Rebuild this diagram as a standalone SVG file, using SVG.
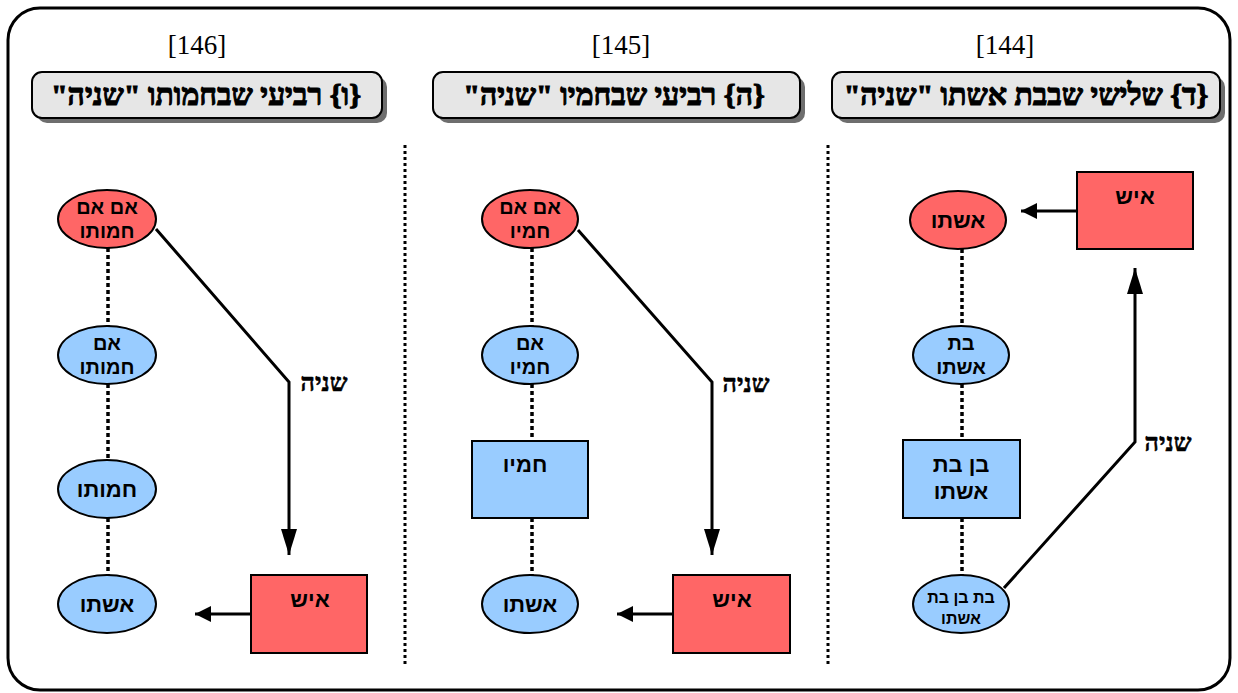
<svg xmlns="http://www.w3.org/2000/svg" width="1238" height="693" viewBox="0 0 1238 693">
<style>
.frame{fill:#fff;stroke:#000;stroke-width:3}
.hdr{fill:#e6e6e6;stroke:#000;stroke-width:2}
.shd{fill:#6e6e6e}
.red{fill:#ff6666;stroke:#000;stroke-width:2}
.blue{fill:#99ccff;stroke:#000;stroke-width:2}
.num{font-family:"Liberation Serif","DejaVu Serif",serif;font-size:27px;fill:#000}
.ht{font-family:"Liberation Serif",serif;font-size:30px;font-weight:bold;fill:#000;stroke:#000;stroke-width:1.1}
.nt{font-family:"Liberation Sans","DejaVu Sans",sans-serif;font-size:22px;font-weight:bold;fill:#000}
.n2{font-family:"Liberation Sans","DejaVu Sans",sans-serif;font-size:20px;font-weight:bold;fill:#000}
.ns{font-family:"Liberation Sans","DejaVu Sans",sans-serif;font-size:16px;font-weight:bold;fill:#000}
.lab{font-family:"Liberation Serif",serif;font-size:25px;font-weight:bold;fill:#000;stroke:#000;stroke-width:0.6}
.sep{stroke:#000;stroke-width:3;stroke-dasharray:3 3;fill:none}
.dot{stroke:#000;stroke-width:3.5;stroke-dasharray:4 3;fill:none}
.ln{stroke:#000;stroke-width:3;fill:none}
</style>
<defs>
<marker id="ahL" markerUnits="userSpaceOnUse" markerWidth="26" markerHeight="16" refX="26" refY="8" orient="auto">
<path d="M0,0 L26,8 L0,16 Z" fill="#000"/>
</marker>
<marker id="ahS" markerUnits="userSpaceOnUse" markerWidth="16" markerHeight="16" refX="16" refY="8" orient="auto">
<path d="M0,0 L16,8 L0,16 Z" fill="#000"/>
</marker>
</defs>
<rect class="frame" x="8" y="8" width="1222" height="682" rx="32" ry="32"/>

<g id="titles">
<text class="num" x="197" y="54" text-anchor="middle">[146]</text>
<text class="num" x="621" y="54" text-anchor="middle">[145]</text>
<text class="num" x="1005" y="54" text-anchor="middle">[144]</text>
</g>

<g id="header-146">
<rect class="shd" x="37" y="77" width="350" height="46" rx="10"/>
<rect class="hdr" x="32" y="72" width="350" height="46" rx="10"/>
<text class="ht" x="206" y="105" text-anchor="middle" direction="rtl">{ו} רביעי שבחמותו "שניה"</text>
</g>
<g id="header-145">
<rect class="shd" x="438" y="77" width="367" height="46" rx="10"/>
<rect class="hdr" x="433" y="72" width="367" height="46" rx="10"/>
<text class="ht" x="614" y="105" text-anchor="middle" direction="rtl">{ה} רביעי שבחמיו "שניה"</text>
</g>
<g id="header-144">
<rect class="shd" x="837" y="77" width="388" height="46" rx="10"/>
<rect class="hdr" x="832" y="72" width="388" height="46" rx="10"/>
<text class="ht" x="1026" y="105" text-anchor="middle" direction="rtl">{ד} שלישי שבבת אשתו "שניה"</text>
</g>

<g id="separators">
<line class="sep" x1="405" y1="145" x2="405" y2="666"/>
<line class="sep" x1="828" y1="145" x2="828" y2="666"/>
</g>

<g id="connectors">
<line class="dot" x1="108" y1="248" x2="108" y2="326"/>
<line class="dot" x1="108" y1="384" x2="108" y2="460"/>
<line class="dot" x1="108" y1="518" x2="108" y2="575"/>
<polyline class="ln" points="156,229 289,382 289,555" marker-end="url(#ahL)"/>
<line class="ln" x1="251" y1="614" x2="195" y2="614" marker-end="url(#ahS)"/>

<line class="dot" x1="532" y1="248" x2="532" y2="326"/>
<line class="dot" x1="532" y1="384" x2="532" y2="441"/>
<line class="dot" x1="532" y1="518" x2="532" y2="575"/>
<polyline class="ln" points="578,230 712,382 712,555" marker-end="url(#ahL)"/>
<line class="ln" x1="673" y1="614" x2="617" y2="614" marker-end="url(#ahS)"/>

<line class="dot" x1="962" y1="249" x2="962" y2="326"/>
<line class="dot" x1="962" y1="384" x2="962" y2="440"/>
<line class="dot" x1="962" y1="518" x2="962" y2="575"/>
<polyline class="ln" points="1004,588 1135,442 1135,268" marker-end="url(#ahL)"/>
<line class="ln" x1="1077" y1="211" x2="1021" y2="211" marker-end="url(#ahS)"/>

<text class="lab" x="324" y="391" text-anchor="middle" direction="rtl">שניה</text>
<text class="lab" x="746" y="392" text-anchor="middle" direction="rtl">שניה</text>
<text class="lab" x="1168" y="451" text-anchor="middle" direction="rtl">שניה</text>
</g>

<g id="n146-1"><ellipse class="red" cx="107" cy="219" rx="49" ry="29"/>
<text class="n2" x="107" y="214" text-anchor="middle" direction="rtl">אם אם</text>
<text class="n2" x="107" y="238" text-anchor="middle" direction="rtl">חמותו</text></g>
<g id="n146-2"><ellipse class="blue" cx="107" cy="355" rx="49" ry="29"/>
<text class="n2" x="107" y="350" text-anchor="middle" direction="rtl">אם</text>
<text class="n2" x="107" y="374" text-anchor="middle" direction="rtl">חמותו</text></g>
<g id="n146-3"><ellipse class="blue" cx="107" cy="489" rx="49" ry="29"/>
<text class="nt" x="107" y="497" text-anchor="middle" direction="rtl">חמותו</text></g>
<g id="n146-4"><ellipse class="blue" cx="107" cy="604" rx="49" ry="29"/>
<text class="nt" x="107" y="612" text-anchor="middle" direction="rtl">אשתו</text></g>
<g id="n146-5"><rect class="red" x="251" y="575" width="116" height="78"/>
<text class="nt" x="310" y="607" text-anchor="middle" direction="rtl">איש</text></g>

<g id="n145-1"><ellipse class="red" cx="530" cy="219" rx="48" ry="29"/>
<text class="n2" x="530" y="214" text-anchor="middle" direction="rtl">אם אם</text>
<text class="n2" x="530" y="238" text-anchor="middle" direction="rtl">חמיו</text></g>
<g id="n145-2"><ellipse class="blue" cx="530" cy="355" rx="48" ry="29"/>
<text class="n2" x="530" y="350" text-anchor="middle" direction="rtl">אם</text>
<text class="n2" x="530" y="374" text-anchor="middle" direction="rtl">חמיו</text></g>
<g id="n145-3"><rect class="blue" x="472" y="441" width="116" height="77"/>
<text class="nt" x="525" y="472" text-anchor="middle" direction="rtl">חמיו</text></g>
<g id="n145-4"><ellipse class="blue" cx="530" cy="604" rx="48" ry="29"/>
<text class="nt" x="530" y="612" text-anchor="middle" direction="rtl">אשתו</text></g>
<g id="n145-5"><rect class="red" x="673" y="575" width="117" height="78"/>
<text class="nt" x="732" y="607" text-anchor="middle" direction="rtl">איש</text></g>

<g id="n144-1"><ellipse class="red" cx="958" cy="220" rx="48" ry="29"/>
<text class="nt" x="958" y="228" text-anchor="middle" direction="rtl">אשתו</text></g>
<g id="n144-2"><ellipse class="blue" cx="961" cy="355" rx="48" ry="29"/>
<text class="n2" x="961" y="350" text-anchor="middle" direction="rtl">בת</text>
<text class="n2" x="961" y="374" text-anchor="middle" direction="rtl">אשתו</text></g>
<g id="n144-3"><rect class="blue" x="903" y="440" width="117" height="78"/>
<text class="nt" x="961" y="472" text-anchor="middle" direction="rtl">בן בת</text>
<text class="nt" x="961" y="499" text-anchor="middle" direction="rtl">אשתו</text></g>
<g id="n144-4"><ellipse class="blue" cx="961" cy="604" rx="48" ry="29"/>
<text class="ns" x="961" y="603" text-anchor="middle" direction="rtl">בת בן בת</text>
<text class="ns" x="961" y="624" text-anchor="middle" direction="rtl">אשתו</text></g>
<g id="n144-5"><rect class="red" x="1077" y="172" width="116" height="77"/>
<text class="nt" x="1135" y="204" text-anchor="middle" direction="rtl">איש</text></g>
</svg>
